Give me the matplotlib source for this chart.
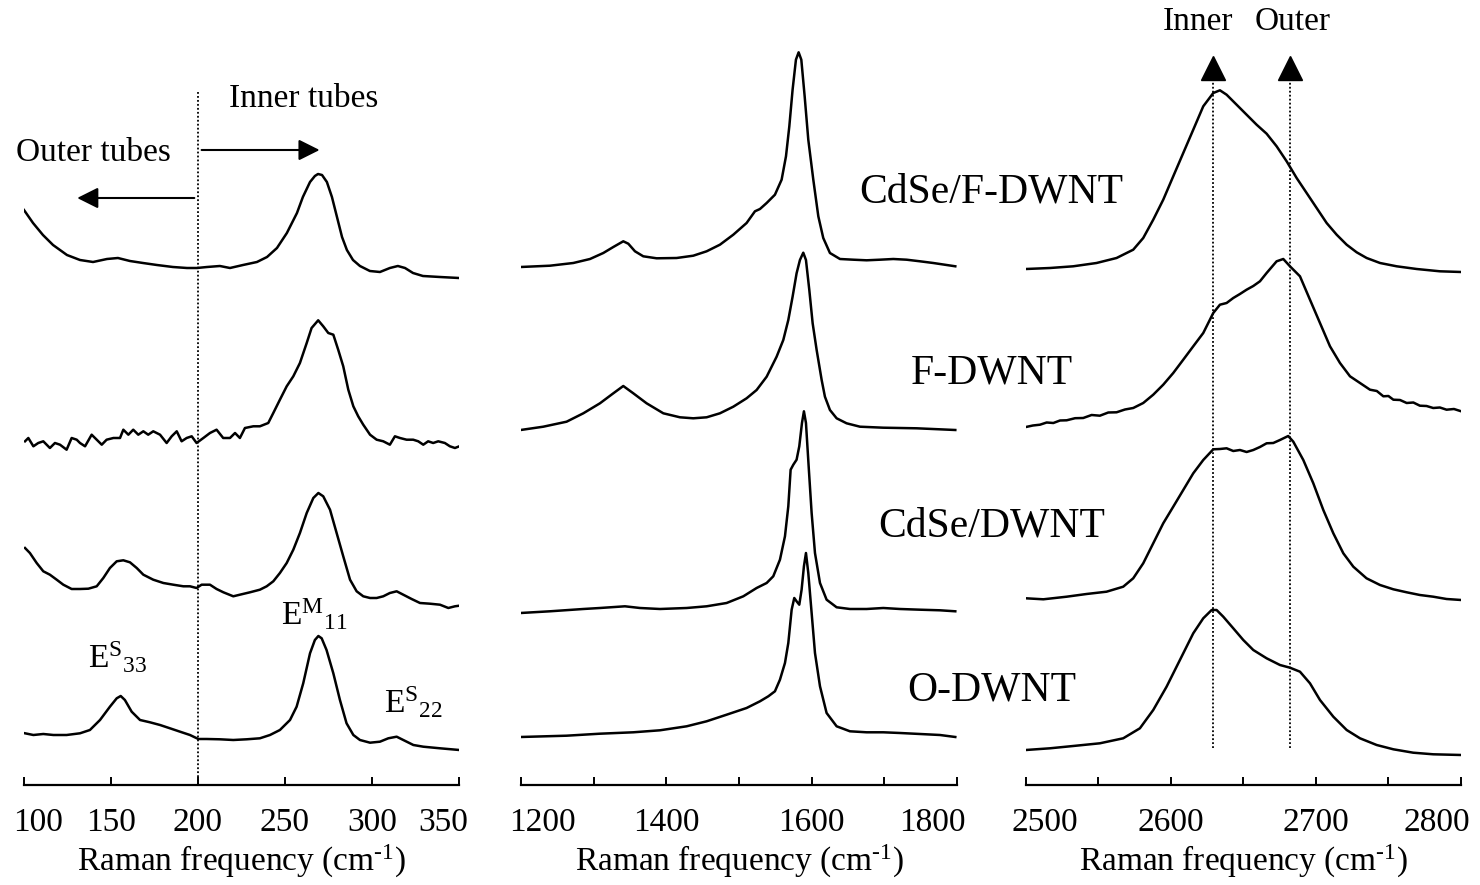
import matplotlib
matplotlib.use("Agg")
import matplotlib.pyplot as plt
import matplotlib.transforms as mtransforms

plt.rcParams["font.family"] = ["Liberation Serif", "DejaVu Serif"]
plt.rcParams["mathtext.fontset"] = "custom"
plt.rcParams["mathtext.rm"] = "Liberation Serif"
plt.rcParams["mathtext.it"] = "Liberation Serif:italic"

samples = ["CdSe/F-DWNT", "F-DWNT", "CdSe/DWNT", "O-DWNT"]

# RBM region (cm-1) / intensity (a.u., above each trace's own baseline)
rbm_cdse_f_x = [100.0, 105.2, 110.9, 116.7, 124.7, 132.2, 139.7, 147.7, 154.0, 160.9, 168.4, 176.4,
                185.6, 193.7, 199.4, 205.2, 212.6, 218.4, 225.9, 233.9, 239.7, 245.4, 251.1, 256.9,
                260.3, 264.4, 267.2, 269.0, 271.3, 274.1, 277.0, 279.9, 282.8, 285.6, 289.1, 293.1,
                298.8, 304.6, 310.3, 314.9, 319.0, 323.6, 329.3, 339.1, 350.0]
rbm_cdse_f_y = [68, 55, 43, 33, 23, 18, 16, 19, 20, 17, 15, 13,
                11, 10, 10, 11, 12, 10, 13, 16, 21, 30, 45, 65,
                81, 96, 102, 104, 103, 96, 81, 61, 41, 28, 18, 12,
                7, 6, 10, 12, 10, 5, 2, 1, 0]

rbm_f_x = [100.6, 102.5, 105.4, 108.2, 111.1, 114.9, 117.8, 120.7, 124.5, 127.4, 130.3, 132.2,
           135.1, 138.9, 141.8, 144.7, 147.5, 151.4, 155.2, 157.1, 160.0, 162.8, 165.7, 168.6,
           171.4, 174.3, 178.2, 182.0, 184.9, 187.8, 190.6, 193.5, 196.4, 199.2, 203.1, 206.9,
           210.7, 214.5, 218.4, 221.3, 224.1, 227.0, 231.8, 235.6, 240.4, 243.3, 247.1, 251.0,
           254.8, 258.6, 262.5, 265.3, 269.1, 272.0, 274.9, 277.8, 280.6, 283.5, 286.4, 289.3,
           292.1, 295.0, 298.9, 302.7, 306.5, 310.3, 313.2, 316.1, 319.9, 323.7, 326.6, 329.5,
           332.3, 335.2, 338.1, 341.9, 344.8, 347.7, 350.2]
rbm_f_y = [6.7, 10, 1.7, 5, 6.7, 0, 5, 3.3, -1.7, 10, 8.3, 5,
           1.7, 13.3, 8.3, 3.3, 8.3, 10, 10, 18.3, 13.3, 18.3, 13.3, 16.7,
           13.3, 16.7, 13.3, 5, 11.7, 16.7, 6.7, 10, 11.7, 5, 10, 15,
           18.3, 10, 10, 15, 10, 20, 21.7, 21.7, 25, 35, 48.3, 61.7,
           71.7, 85, 105, 120, 127.7, 121.7, 115, 113.3, 98.3, 81.7, 58.3, 41.7,
           31.7, 23.3, 13.3, 8.3, 6.7, 3.3, 11.7, 10, 8.3, 8.3, 6.7, 3.3,
           6.7, 5, 6.7, 5, 1.7, 0, 1.7]

rbm_cdse_x = [100.6, 103.4, 107.3, 111.1, 114.9, 118.8, 122.6, 127.4, 132.2, 137.0, 141.8, 145.6,
              149.4, 153.3, 157.1, 160.9, 164.8, 168.6, 174.3, 180.1, 185.8, 191.6, 195.4, 199.2,
              202.1, 206.9, 210.7, 214.6, 220.3, 224.1, 229.9, 235.6, 239.5, 243.3, 247.1, 251.0,
              254.8, 258.6, 262.5, 266.3, 269.2, 272.0, 275.9, 279.7, 283.5, 287.4, 291.2, 295.0,
              298.9, 302.7, 306.5, 310.3, 314.2, 318.0, 322.8, 327.6, 333.3, 339.1, 343.9, 347.7,
              350.2]
rbm_cdse_y = [60, 55, 45, 36.7, 33.3, 28.3, 23.3, 19, 19, 19.3, 21.7, 30,
              40, 46.7, 47.7, 45.7, 40, 33.3, 28.3, 25, 23.3, 21.7, 21.7, 20,
              23.3, 23.3, 19, 15.7, 11.7, 13.3, 15.7, 18.3, 21.7, 26.7, 35, 45,
              58.3, 75, 95, 110, 115, 111.7, 98.3, 75, 51.7, 28.3, 16.7, 11.7,
              10, 10, 11.7, 15, 16.7, 13.3, 9, 5, 4.3, 3.3, 0, 1.7,
              2.3]

rbm_o_x = [100.6, 105.4, 111.1, 116.9, 124.5, 132.2, 137.9, 143.7, 149.4, 153.3, 155.6, 158.0,
           161.9, 166.7, 172.4, 178.2, 183.9, 189.7, 195.4, 200.2, 205.0, 212.6, 220.3, 228.0,
           235.6, 241.4, 247.1, 252.9, 256.7, 260.5, 264.4, 267.2, 269.2, 271.1, 273.9, 277.8,
           281.6, 285.4, 289.3, 293.1, 298.9, 304.6, 309.4, 314.2, 318.0, 323.8, 329.5, 339.1,
           350.2]
rbm_o_y = [16.7, 15, 16, 15, 15, 16.7, 20, 30, 43.3, 51.7, 54, 50,
           38.3, 30, 27.7, 25, 21.7, 18.3, 15, 11, 11, 10.7, 10, 10.7,
           11.7, 15, 20, 30, 43.3, 66.7, 96.7, 110, 114, 111.7, 100, 76.7,
           50, 26.7, 15, 10, 7.3, 8.3, 11.7, 13.3, 10, 5, 3.3, 1.7,
           0]

# D / G band region
g_cdse_f_x = [1199.5, 1239.9, 1272.0, 1295.0, 1313.3, 1327.1, 1340.8, 1347.7, 1356.9, 1368.3, 1386.7,
              1414.2, 1437.1, 1455.5, 1473.8, 1492.2, 1510.5, 1522.0, 1528.9, 1538.1, 1549.5, 1558.7,
              1564.7, 1569.3, 1573.8, 1578.4, 1582.1, 1585.8, 1590.4, 1595.4, 1602.3, 1609.2, 1616.0,
              1625.2, 1639.0, 1657.3, 1675.7, 1694.0, 1712.4, 1730.7, 1749.1, 1767.4, 1785.8, 1797.7]
g_cdse_f_y = [0, 1.3, 4, 8, 14, 20, 25.7, 23.3, 15.7, 10.7, 8.7,
              9, 11.3, 15.7, 22.3, 32.3, 44, 55.7, 58, 64, 72.3, 87.3,
              110.7, 140.7, 177.3, 207.3, 214.7, 207.3, 170.7, 127.3, 87.3, 50.7, 29,
              14, 8, 7.3, 6.7, 7.3, 8, 7.3, 5.7, 4, 2, 0.7]

g_f_x = [1199.5, 1230.7, 1262.8, 1285.8, 1308.7, 1327.1, 1340.8, 1354.6, 1372.9, 1395.9, 1418.8,
         1437.1, 1455.5, 1473.8, 1492.2, 1510.5, 1524.3, 1538.1, 1551.8, 1561.0, 1567.9, 1573.8,
         1579.3, 1583.9, 1588.5, 1592.2, 1596.8, 1601.4, 1606.9, 1613.8, 1618.3, 1625.2, 1634.4,
         1648.1, 1666.5, 1698.6, 1744.5, 1797.7]
g_f_y = [0, 3.3, 8.3, 16.7, 26.7, 36.7, 44, 36.7, 26.7, 16.7, 12.7,
         11.7, 12.7, 16.7, 23.3, 31.7, 40, 53.3, 73.3, 90, 110, 133.3,
         156.7, 170, 177.3, 170, 140, 106.7, 80, 50, 33.3, 20, 11.7,
         6.7, 3.3, 2.3, 1.7, 0]

g_cdse_x = [1199.5, 1239.9, 1285.8, 1308.7, 1343.1, 1363.8, 1391.3, 1428.0, 1455.5, 1483.0, 1506.0,
            1524.3, 1538.1, 1547.2, 1556.4, 1563.3, 1567.9, 1571.1, 1574.8, 1579.3, 1583.0, 1586.7,
            1589.4, 1592.2, 1595.9, 1600.0, 1604.6, 1611.5, 1620.6, 1634.4, 1652.7, 1675.7, 1698.6,
            1721.5, 1749.1, 1776.6, 1797.7]
g_cdse_y = [0, 1.7, 4, 5, 6.7, 5, 4, 5, 6.7, 10, 16.7,
            25, 30, 36.7, 53.3, 76.7, 106.7, 143.3, 148.3, 153.3, 166.7, 190,
            201.7, 190, 146.7, 100, 60, 30, 13.3, 5.7, 4, 4, 5,
            4, 3.3, 2.7, 1.7]

g_o_x = [1199.5, 1262.8, 1308.7, 1354.6, 1391.3, 1428.0, 1455.5, 1483.0, 1510.5, 1528.9, 1540.4,
         1549.5, 1556.4, 1563.3, 1567.9, 1572.5, 1576.1, 1579.3, 1583.0, 1586.2, 1589.4, 1592.2,
         1595.4, 1600.0, 1604.6, 1611.5, 1620.6, 1634.4, 1652.7, 1675.7, 1698.6, 1721.5, 1749.1,
         1776.6, 1797.7]
g_o_y = [0, 1.3, 3.3, 4.7, 6.7, 10.7, 15.7, 22.3, 29, 35.7, 40.7,
         45.7, 57.3, 74, 94, 127.3, 139, 135.7, 132.3, 147.3, 170.7, 184,
         164, 124, 84, 50.7, 24, 10.7, 5.7, 4.7, 4.7, 4, 3,
         2, 0]

# G' band region
gp_cdse_f_x = [2500.0, 2516.6, 2532.6, 2548.7, 2562.5, 2574.0, 2580.9, 2587.8, 2594.7, 2601.6, 2608.5,
               2615.4, 2622.3, 2629.2, 2633.8, 2638.4, 2645.3, 2652.2, 2659.1, 2666.0, 2672.9, 2679.8,
               2686.7, 2693.6, 2700.5, 2707.4, 2714.3, 2721.2, 2728.1, 2735.0, 2744.2, 2755.7, 2769.5,
               2785.5, 2800.2]
gp_cdse_f_y = [3, 4, 5.7, 9, 14, 22.3, 34, 52.3, 72.3, 95.7, 119,
               142.3, 165.7, 179, 181.7, 177.3, 167.3, 157.3, 147.3, 138.3, 125.7, 110.7,
               94, 79, 64, 49, 37.3, 27.3, 19.7, 14, 9, 5.7, 3,
               0.7, 0]

gp_f_x = [2500.0, 2504.8, 2509.7, 2514.3, 2518.9, 2523.5, 2528.1, 2533.9, 2539.5, 2545.3, 2551.0,
          2556.8, 2562.5, 2568.3, 2574.0, 2580.9, 2587.8, 2594.7, 2601.6, 2608.5, 2615.4, 2622.3,
          2629.2, 2633.8, 2638.4, 2643.0, 2647.6, 2652.2, 2656.8, 2661.4, 2666.0, 2672.9, 2677.5,
          2682.1, 2689.0, 2695.9, 2702.8, 2709.7, 2716.6, 2723.5, 2730.4, 2737.3, 2742.0, 2746.5,
          2750.0, 2753.4, 2758.0, 2762.6, 2767.2, 2771.7, 2776.3, 2780.9, 2785.5, 2790.1, 2795.2,
          2800.2]
gp_f_y = [0, 1.5, 2.3, 4.5, 4, 6.5, 6.7, 8.8, 9, 12, 11.3,
          14.5, 14.7, 17.5, 19, 24, 32.3, 42.3, 54, 67.3, 80.7, 94,
          114, 122.3, 124, 129, 133, 137.3, 141, 145.7, 154, 165.7, 168,
          160.7, 150.7, 127.3, 104, 80.7, 64, 50.7, 44, 37.3, 36, 30.7,
          31, 27.3, 27, 24, 24.5, 21.3, 21, 19, 19.5, 17.3, 18,
          15.7]

gp_cdse_x = [2500.0, 2512.0, 2528.1, 2541.8, 2555.6, 2567.1, 2574.0, 2580.9, 2587.8, 2594.7, 2601.6,
             2608.5, 2615.4, 2622.3, 2629.2, 2633.8, 2638.4, 2643.0, 2647.6, 2652.2, 2656.8, 2661.4,
             2666.0, 2670.6, 2675.2, 2680.9, 2684.4, 2691.3, 2698.2, 2705.1, 2712.0, 2718.9, 2725.8,
             2734.9, 2744.2, 2753.4, 2762.6, 2771.7, 2780.9, 2790.1, 2800.2]
gp_cdse_y = [1.7, 0.7, 3.3, 6, 8.3, 13.3, 21.7, 36.7, 56.7, 76.7, 93.3,
             110, 126.7, 140, 150.7, 151, 151.7, 149, 150, 148, 150, 153,
             156.7, 157, 160, 164, 158.3, 140, 116.7, 90, 66.7, 46.7, 33.3,
             21.7, 15, 10.7, 7.7, 5, 3.3, 1, 0]

gp_o_x = [2500.0, 2516.6, 2532.6, 2551.0, 2567.1, 2578.6, 2587.8, 2597.0, 2606.2, 2615.4, 2622.3,
          2628.1, 2631.5, 2636.1, 2643.0, 2649.9, 2656.8, 2666.0, 2675.2, 2682.1, 2689.0, 2695.9,
          2702.8, 2712.0, 2721.2, 2730.4, 2741.9, 2753.4, 2767.1, 2780.9, 2800.2]
gp_o_y = [5, 6.7, 9, 11.7, 16.7, 26.7, 45, 68.3, 95, 121.7, 136.7,
          145, 145, 138.3, 126.7, 115, 105, 96.7, 90, 87.3, 83.3, 71.7,
          55, 38.3, 25, 16.7, 10, 5.7, 2.3, 0.7, 0]

# vertical stacking of the traces (a.u.)
rbm_offsets = [507, 337, 177, 35]
g_offsets = [518, 355, 172, 48]
gp_offsets = [513, 358, 185, 30]

panels = [
    dict(xs=[rbm_cdse_f_x, rbm_f_x, rbm_cdse_x, rbm_o_x],
         ys=[rbm_cdse_f_y, rbm_f_y, rbm_cdse_y, rbm_o_y],
         offsets=rbm_offsets, xlim=(100, 350),
         ticks=[100, 150, 200, 250, 300, 350], labels=[100, 150, 200, 250, 300, 350]),
    dict(xs=[g_cdse_f_x, g_f_x, g_cdse_x, g_o_x],
         ys=[g_cdse_f_y, g_f_y, g_cdse_y, g_o_y],
         offsets=g_offsets, xlim=(1200, 1800),
         ticks=[1200, 1300, 1400, 1500, 1600, 1700, 1800], labels=[1200, 1400, 1600, 1800]),
    dict(xs=[gp_cdse_f_x, gp_f_x, gp_cdse_x, gp_o_x],
         ys=[gp_cdse_f_y, gp_f_y, gp_cdse_y, gp_o_y],
         offsets=gp_offsets, xlim=(2500, 2800),
         ticks=[2500, 2550, 2600, 2650, 2700, 2750, 2800], labels=[2500, 2600, 2700, 2800]),
]
# the end labels of each axis sit slightly inside the axis ends (pixels)
end_shift = [(14, -16), (21, -25), (19, -24)]

fig = plt.figure(figsize=(14.8, 8.85), dpi=100)
lefts = [0.0162, 0.352, 0.6932]
widths = [0.2939, 0.2946, 0.2939]
axes = []
for p, left, w, shift in zip(panels, lefts, widths, end_shift):
    ax = fig.add_axes([left, 0.113, w, 0.887])
    for x, y, off in zip(p["xs"], p["ys"], p["offsets"]):
        ax.plot(x, [v + off for v in y], color="black", lw=1.8, solid_joinstyle="round")
    ax.set_xlim(*p["xlim"])
    ax.set_ylim(0, 785)
    for s in ["left", "right", "top"]:
        ax.spines[s].set_visible(False)
    ax.spines["bottom"].set_linewidth(1.6)
    ax.set_yticks([])
    ax.set_xticks(p["ticks"])
    ax.set_xticklabels([str(t) if t in p["labels"] else "" for t in p["ticks"]])
    ax.tick_params(axis="x", direction="in", length=6, width=1.4, pad=16, labelsize=24)
    ax.set_xlabel(r"Raman frequency (cm$^{\text{-}1}$)", fontsize=24, labelpad=4)
    ax.patch.set_alpha(0)
    labels = ax.get_xticklabels()
    for lab, dx in [(labels[0], shift[0]), (labels[-1], shift[1])]:
        lab.set_transform(lab.get_transform() + mtransforms.ScaledTranslation(dx / 100, 0, fig.dpi_scale_trans))
    axes.append(ax)

# RBM panel annotations
ax1 = axes[0]
ax1.plot([200, 200], [0, 693], ls=(0, (1, 1.2)), color="black", lw=1.3)
ax1.annotate("", xy=(129, 587), xytext=(199.5, 587),
             arrowprops=dict(arrowstyle="-|>", color="black", lw=1.5, mutation_scale=32))
ax1.annotate("", xy=(271.5, 635), xytext=(200.5, 635),
             arrowprops=dict(arrowstyle="-|>", color="black", lw=1.5, mutation_scale=32))
ax1.text(140, 632, "Outer tubes", fontsize=24, ha="center", va="center")
ax1.text(261, 686, "Inner tubes", fontsize=24, ha="center", va="center")
ax1.text(154, 127, r"$\mathrm{E}^{\mathrm{S}}{}_{\mathrm{33}}$", fontsize=24, ha="center", va="center")
ax1.text(267, 170, r"$\mathrm{E}^{\mathrm{M}}{}_{\mathrm{11}}$", fontsize=24, ha="center", va="center")
ax1.text(324, 82, r"$\mathrm{E}^{\mathrm{S}}{}_{\mathrm{22}}$", fontsize=24, ha="center", va="center")

# G' panel annotations
ax3 = axes[2]
for xv in [2629, 2682]:
    ax3.plot([xv, xv], [37, 705], ls=(0, (1, 1.2)), color="black", lw=1.3)
    ax3.plot([xv], [717], marker="^", ms=17, color="black", clip_on=False)
ax3.text(2619, 763, "Inner", fontsize=24, ha="center", va="center")
ax3.text(2684, 763, "Outer", fontsize=24, ha="center", va="center")

# sample names
for name, yfig in zip(samples, [0.783, 0.578, 0.405, 0.220]):
    fig.text(0.670, yfig, name, fontsize=30, ha="center", va="center")

fig.savefig("out.png", dpi=100)
